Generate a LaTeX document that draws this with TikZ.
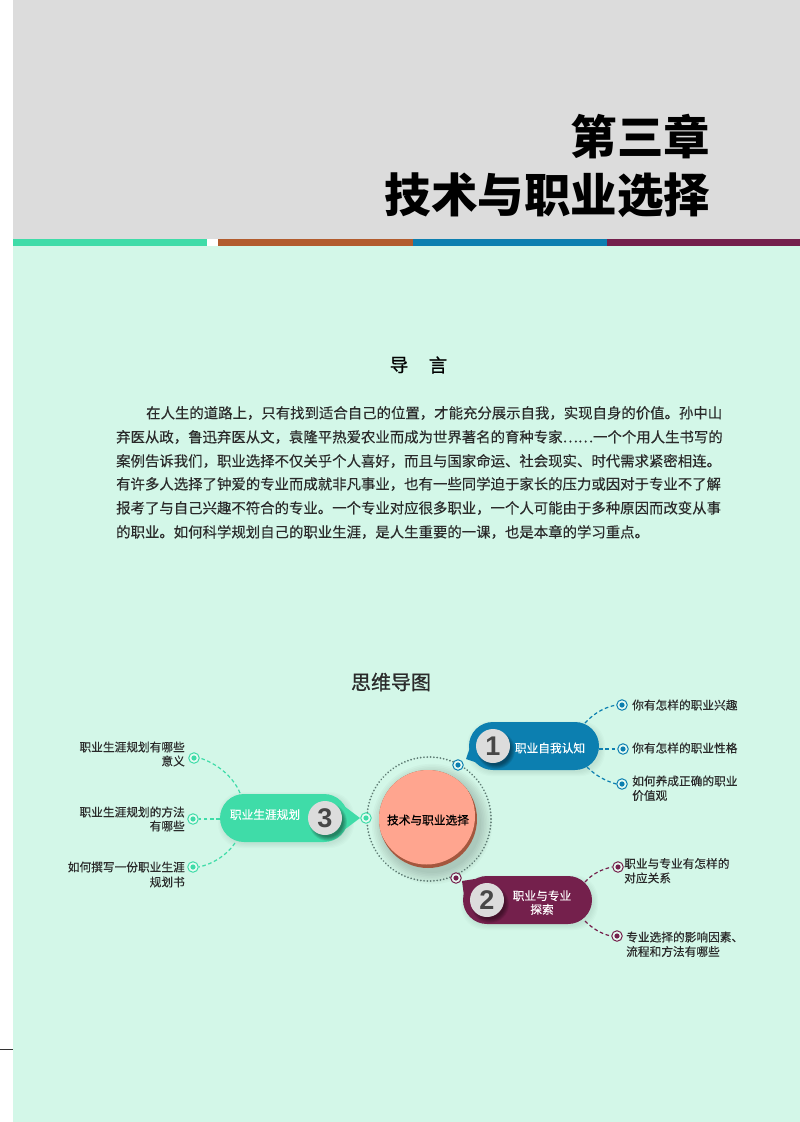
\documentclass[tikz,border=0pt]{standalone}
\usepackage{fontspec}
\setmainfont{Noto Sans CJK SC}
\newfontfamily\numfont{Liberation Sans}
\newfontfamily\medfont[FakeBold=0.25]{Noto Sans CJK SC}
\newfontfamily\strongfont[FakeBold=0.8]{Noto Sans CJK SC}
\definecolor{pagegray}{HTML}{DCDCDC}
\definecolor{mint}{HTML}{D3F7E8}
\definecolor{mgreen}{HTML}{3FDCA8}
\definecolor{mbrown}{HTML}{B25C2E}
\definecolor{mblue}{HTML}{0C7FB0}
\definecolor{mpurple}{HTML}{74204C}
\definecolor{salmon}{HTML}{FFA58F}
\definecolor{salmondark}{HTML}{A4573E}
\definecolor{inkdark}{HTML}{2A2A2A}
\definecolor{dotgray}{HTML}{5F7C74}
\newcommand{\fsz}[1]{\fontsize{#1}{#1}\selectfont}
\newcommand{\softshadow}[4]{% x,y,r,opacity step
  \foreach \q in {0,1,...,7}{\fill[black,opacity=#4] (#1,#2) circle ({#3+\q*1.6});}}
\newcommand{\badgeshadow}[2]{%
  \foreach \q in {0,1,...,5}{\fill[black,opacity=0.08] (#1,#2) circle ({15+\q*0.8});}}
\newcommand{\pillshadow}[5]{% x1,y1,x2,y2, opacity
  \foreach \q in {0,1,...,4}{\fill[black,opacity=#5,rounded corners=24pt] ({#1-\q},{#2-\q}) rectangle ({#3+\q},{#4+\q});}}
\newcommand{\dotmk}[3]{\node[dotmark,draw=#2] (#1) at (#3) {};\fill[#2] (#1.center) circle (2.6);}
\newcommand{\badge}[3]{\badgeshadow{#2+3}{#3+4}%
  \node[badgedisc] (badge#1) at (#2,#3) {\numfont\bfseries\fsz{27}#1};}
\tikzset{
  dotmark/.style={circle,line width=1pt,fill=mint!55!white,minimum size=10.5pt,inner sep=0pt},
  badgedisc/.style={circle,fill=pagegray,text=black!72,minimum size=34pt,inner sep=0pt},
  pill/.style={rounded corners=24pt,minimum height=48pt,inner sep=0pt},
  link/.style={line width=1.2pt,dash pattern=on 3.6pt off 2.6pt},
  leaf/.style={text=inkdark,inner sep=0pt,font=\medfont\fsz{11.7}},
  pilltext/.style={text=white,inner sep=0pt,align=center,font=\medfont\fsz{11.7}},
  bodyline/.style={text=inkdark,inner sep=0pt,anchor=west,font=\medfont\fsz{14.4}},
  titletext/.style={text=black,inner sep=0pt,anchor=east,font=\bfseries\fsz{46.5}}
}
\begin{document}
\begin{tikzpicture}[x=1pt,y=-1pt]
\useasboundingbox (0,0) rectangle (800,1122);
\fill[white] (0,0) rectangle (800,1122);
\fill[pagegray] (13,0) rectangle (800,239);
\fill[mint] (13,246) rectangle (800,1122);
\fill[mgreen] (13,239) rectangle (207,246);
\fill[mbrown] (218,239) rectangle (413,246);
\fill[mblue] (413,239) rectangle (607,246);
\fill[mpurple] (607,239) rectangle (800,246);
\draw[black!80,line width=1pt] (0,1049) -- (13,1049);

\node[titletext] (t1) at (710.5,137) {第三章};
\node[titletext] (t2) at (710.5,195) {技术与职业选择};

\node[inner sep=0pt,text=black,font=\strongfont\fsz{18.5}] (d1) at (399,365) {导};
\node[inner sep=0pt,text=black,font=\strongfont\fsz{18.5}] (d2) at (438,365) {言};

\node[bodyline] (l1) at (146,413) {在人生的道路上，只有找到适合自己的位置，才能充分展示自我，实现自身的价值。孙中山};
\node[bodyline] (l2) at (116,437) {弃医从政，鲁迅弃医从文，袁隆平热爱农业而成为世界著名的育种专家⋯⋯一个个用人生书写的};
\node[bodyline] (l3) at (116,461) {案例告诉我们，职业选择不仅关乎个人喜好，而且与国家命运、社会现实、时代需求紧密相连。};
\node[bodyline] (l4) at (116,484) {有许多人选择了钟爱的专业而成就非凡事业，也有一些同学迫于家长的压力或因对于专业不了解};
\node[bodyline] (l5) at (116,508) {报考了与自己兴趣不符合的专业。一个专业对应很多职业，一个人可能由于多种原因而改变从事};
\node[bodyline] (l6) at (116,532) {的职业。如何科学规划自己的职业生涯，是人生重要的一课，也是本章的学习重点。};

\node[inner sep=0pt,text=inkdark,font=\strongfont\fsz{20}] (mt) at (391,682) {思维导图};

% centre
\softshadow{432}{824}{49}{0.024}
\draw[dotgray,line width=1.9pt,line cap=round,dash pattern=on 0.1pt off 3.2pt] (429,819) circle (62);
\node[circle,fill=salmondark,minimum size=98pt,inner sep=0pt] (hub) at (428,819) {};
\begin{scope}
\clip (hub.center) circle (49);
\fill[salmon] (426.5,816) circle (48.5);
\end{scope}
\node[inner sep=0pt,text=black,font=\strongfont\fsz{11.7}] (hubt) at (428,820) {技术与职业选择};

% blue
\pillshadow{471}{725}{601}{772}{0.015}
\node[pill,fill=mblue,minimum width=130pt] (pb) at (534,746) {};
\fill[mblue] (475,733) -- (466,759) -- (484,765) -- cycle;
\badge{1}{493}{746}
\node[pilltext] (pbt) at (550,748) {职业自我认知};
% purple
\pillshadow{465}{879}{594}{926}{0.015}
\node[pill,fill=mpurple,minimum width=129pt] (pp) at (527.5,900) {};
\fill[mpurple] (481,878) -- (462,881) -- (464,896) -- cycle;
\badge{2}{487}{900}
\node[pilltext] (ppt) at (542,902.5) {职业与专业\\[2pt]探索};
% green
\pillshadow{222}{796}{350}{844}{0.015}
\node[pill,fill=mgreen,minimum width=128pt] (pg) at (284,818) {};
\fill[mgreen] (344,806) -- (360,818) -- (344,830) -- cycle;
\badge{3}{325}{818}
\node[pilltext] (pgt) at (265,814.5) {职业生涯规划};

% markers
\dotmk{b0}{mblue}{458,765}
\dotmk{b1}{mblue}{622,705}
\dotmk{b2}{mblue}{623,749}
\dotmk{b3}{mblue}{622,784}
\dotmk{p0}{mpurple}{456,878}
\dotmk{p1}{mpurple}{618,867}
\dotmk{p2}{mpurple}{617,936}
\dotmk{g0}{mgreen}{366,818}
\dotmk{g1}{mgreen}{194,758}
\dotmk{g2}{mgreen}{193,819}
\dotmk{g3}{mgreen}{193,867}

% connectors
\coordinate (cb1) at (585,723);
\coordinate (cb3) at (587,767);
\coordinate (cp1) at (585,882);
\coordinate (cp2) at (585,921);
\coordinate (cg1) at (240,793);
\coordinate (cg3) at (235,843);
\draw[link,mblue] (cb1) .. controls (595,712) and (606,707) .. (b1.west);
\draw[link,mblue] (pb.east |- b2) -- (b2.west);
\draw[link,mblue] (cb3) .. controls (596,776) and (606,781) .. (b3.west);
\draw[link,mpurple] (cp1) .. controls (592,874) and (602,869) .. (p1.west);
\draw[link,mpurple] (cp2) .. controls (592,928) and (601,934) .. (p2.west);
\draw[link,mgreen] (cg1) .. controls (233,776) and (216,763) .. (g1.east);
\draw[link,mgreen] (pg.west |- g2) -- (g2.east);
\draw[link,mgreen] (cg3) .. controls (227,855) and (213,864) .. (g3.east);

% leaves
\node[leaf,anchor=west] (tb1) at (632,705) {你有怎样的职业兴趣};
\node[leaf,anchor=west] (tb2) at (632,748) {你有怎样的职业性格};
\node[leaf,anchor=west] (tb3a) at (632,781) {如何养成正确的职业};
\node[leaf,anchor=west] (tb3b) at (632,795.5) {价值观};
\node[leaf,anchor=west] (tp1a) at (624,863.5) {职业与专业有怎样的};
\node[leaf,anchor=west] (tp1b) at (624,878) {对应关系};
\node[leaf,anchor=west] (tp2a) at (626,937) {专业选择的影响因素、};
\node[leaf,anchor=west] (tp2b) at (626,951.5) {流程和方法有哪些};
\node[leaf,anchor=east] (tg1a) at (185,747) {职业生涯规划有哪些};
\node[leaf,anchor=east] (tg1b) at (185,761) {意义};
\node[leaf,anchor=east] (tg2a) at (185,812) {职业生涯规划的方法};
\node[leaf,anchor=east] (tg2b) at (185,826) {有哪些};
\node[leaf,anchor=east] (tg3a) at (185,867) {如何撰写一份职业生涯};
\node[leaf,anchor=east] (tg3b) at (185,882) {规划书};
\end{tikzpicture}
\end{document}
